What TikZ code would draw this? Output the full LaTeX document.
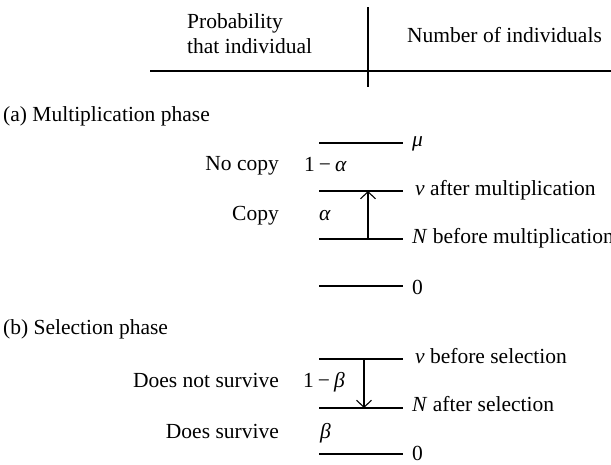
\documentclass[tikz,border=0pt]{standalone}
\usepackage{fontspec}
\setmainfont{Liberation Serif}
\usetikzlibrary{arrows.meta,positioning}

\begin{document}
\begin{tikzpicture}[
    x=1pt, y=-1pt,
    font=\fontsize{21.5}{25}\selectfont,
    rule/.style={line width=1.1pt},
    level/.style={line width=1.1pt},
    move/.style={line width=1.1pt, -{Straight Barb[length=7pt,width=15pt,line width=1.1pt]}},
    txt/.style={inner sep=0pt, anchor=base west},
    rtxt/.style={inner sep=0pt, anchor=base east},
]
\useasboundingbox (0,0) rectangle (611,464);

% ---------- header ----------
\coordinate (hl) at (150,71);
\coordinate (hr) at (611,71);
\coordinate (vt) at (368,7);
\coordinate (vb) at (368,87);
\draw[rule] (hl) -- (hr);
\draw[rule] (vt) -- (vb);
\node[txt, align=left] (prob) at (187,53) {Probability\\that individual};
\node[txt] (num) at (407,42) {Number of individuals};

% ---------- (a) multiplication phase ----------
\node[txt] (phaseA) at (3,121) {(a) Multiplication phase};
\foreach \name/\y in {muA/143, nuA/191, nA/239, zeroA/286} {
  \coordinate (\name-l) at (319,\y);
  \coordinate (\name-r) at (403,\y);
  \draw[level] (\name-l) -- (\name-r);
}
\node[txt] (muA-lbl)   at (412,146) {\textit{μ}};
\node[txt] (nuA-lbl)   at (415,195) {\textit{ν} after multiplication};
\node[txt] (nA-lbl)    at (412,243) {\textit{N} before multiplication};
\node[txt] (zeroA-lbl) at (412,294) {0};

\node[rtxt] (nocopy) at (279,170) {No copy};
\node[txt]  (pnocopy) at (304,171) {1\hspace{4pt}−\hspace{4pt}\textit{α}};
\node[rtxt] (copy) at (279,220) {Copy};
\node[txt]  (pcopy) at (319,220) {\textit{α}};

\coordinate (upfrom) at (368,239);
\coordinate (upto)   at (368,191);
\draw[move] (upfrom) -- (upto);

% ---------- (b) selection phase ----------
\node[txt] (phaseB) at (3,334) {(b) Selection phase};
\foreach \name/\y in {nuB/359, nB/408, zeroB/454} {
  \coordinate (\name-l) at (319,\y);
  \coordinate (\name-r) at (403,\y);
  \draw[level] (\name-l) -- (\name-r);
}
\node[txt] (nuB-lbl)   at (415,363) {\textit{ν} before selection};
\node[txt] (nB-lbl)    at (412,411) {\textit{N} after selection};
\node[txt] (zeroB-lbl) at (412,460) {0};

\node[rtxt] (dies) at (279,387) {Does not survive};
\node[txt]  (pdies) at (303,387) {1\hspace{4pt}−\hspace{4pt}\textit{β}};
\node[rtxt] (lives) at (279,438) {Does survive};
\node[txt]  (plives) at (320,438) {\textit{β}};

\coordinate (downfrom) at (364,359);
\coordinate (downto)   at (364,408);
\draw[move] (downfrom) -- (downto);

\end{tikzpicture}
\end{document}
